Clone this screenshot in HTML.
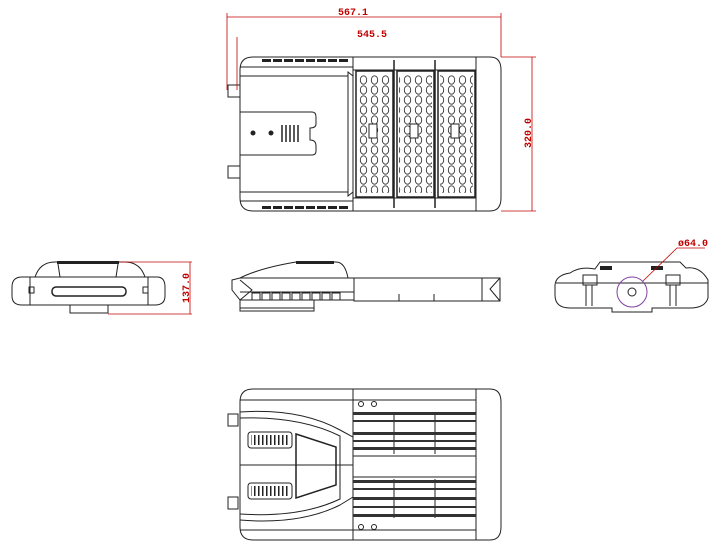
<!DOCTYPE html>
<html><head><style>
html,body{margin:0;padding:0;background:#fff;}
svg{display:block}
text{font-family:"Liberation Mono",monospace;font-weight:bold;fill:#c00000;font-size:10px}
</style></head><body>
<svg width="724" height="556" viewBox="0 0 724 556" xmlns="http://www.w3.org/2000/svg">
<defs>
<pattern id="led" x="358" y="75" width="11" height="10" patternUnits="userSpaceOnUse">
<ellipse cx="5.5" cy="5" rx="3.2" ry="4.2" fill="none" stroke="#333" stroke-width="0.9"/>
</pattern>
<pattern id="vb" x="250" y="0" width="4" height="10" patternUnits="userSpaceOnUse">
<rect x="0" y="0" width="1.5" height="10" fill="#222"/>
</pattern>
</defs>
<g fill="none" stroke="#222" stroke-width="1">
<!-- TOP VIEW -->
<path d="M253,57 H490 Q501,57 501,70 V198 Q501,211 490,211 H253 Q240,211 240,198 V70 Q240,57 253,57 Z"/>
<line x1="353" y1="57" x2="353" y2="211"/>
<line x1="476" y1="57" x2="476" y2="211"/>
<line x1="240" y1="67" x2="353" y2="67"/>
<line x1="240" y1="201" x2="353" y2="201"/>
<line x1="240" y1="76" x2="348" y2="76"/>
<line x1="240" y1="192" x2="348" y2="192"/>
<path d="M348,72 L353,76 V192 L348,196 Z"/>
<path d="M240,112 H312 Q316,112 316,117 V124 Q316,128 310,128 V140 Q316,140 316,146 V151 Q316,155 312,155 H240"/>
<circle cx="253" cy="133" r="2" fill="#222"/>
<circle cx="271" cy="133" r="2" fill="#222"/>
<g stroke-width="1.5"><line x1="282" y1="125" x2="282" y2="142"/><line x1="286" y1="125" x2="286" y2="142"/><line x1="290" y1="125" x2="290" y2="142"/><line x1="294" y1="125" x2="294" y2="142"/><line x1="298" y1="125" x2="298" y2="142"/></g>
<rect x="228" y="85" width="12" height="12"/><rect x="228" y="166" width="12" height="12"/>
<line x1="353" y1="70" x2="476" y2="70"/><line x1="353" y1="198" x2="476" y2="198"/>
<rect x="356" y="71" width="37" height="126" stroke-width="1.5"/>
<rect x="397" y="71" width="37" height="126" stroke-width="1.5"/>
<rect x="438" y="71" width="37" height="126" stroke-width="1.5"/>
<line x1="394" y1="60" x2="394" y2="208" stroke-width="1.5"/>
<line x1="435" y1="60" x2="435" y2="208" stroke-width="1.5"/>
</g>
<g stroke="#222" stroke-width="3" stroke-dasharray="9,2"><line x1="262" y1="60.5" x2="350" y2="60.5"/><line x1="262" y1="207.5" x2="350" y2="207.5"/></g>
<rect x="358" y="75" width="33" height="118" fill="url(#led)"/>
<rect x="399" y="75" width="33" height="118" fill="url(#led)"/>
<rect x="440" y="75" width="33" height="118" fill="url(#led)"/>
<g fill="#fff" stroke="#222"><rect x="369" y="124" width="8" height="14"/><rect x="410" y="124" width="8" height="14"/><rect x="451" y="124" width="8" height="14"/></g>
<g stroke="#c00000" stroke-width="0.8" fill="none">
<line x1="227" y1="17" x2="501" y2="17"/><line x1="227" y1="13" x2="227" y2="90"/><line x1="501" y1="13" x2="501" y2="57"/>
<line x1="237" y1="37" x2="237" y2="90"/>
<line x1="501" y1="57" x2="536" y2="57"/><line x1="501" y1="211" x2="536" y2="211"/><line x1="532" y1="57" x2="532" y2="211"/>
</g>
<text x="338" y="15">567.1</text>
<text x="357" y="37" font-size="11">545.5</text>
<text transform="translate(531,148) rotate(-90)" font-size="11">320.0</text>

<!-- END VIEW LEFT -->
<g fill="none" stroke="#222">
<path d="M22,277 H157 Q165,277 165,287 V296 Q165,305 155,305 H22 Q12,305 12,296 V287 Q12,277 22,277 Z"/>
<path d="M35,277 Q40,262 55,262 H125 Q140,262 145,277"/>
<line x1="58" y1="264" x2="60" y2="277"/><line x1="118" y1="264" x2="116" y2="277"/>
<line x1="30" y1="277" x2="30" y2="305"/><line x1="148" y1="277" x2="148" y2="305"/>
<rect x="52" y="287" width="74" height="9" rx="4" stroke-width="1.5"/>
<rect x="29" y="287" width="5" height="6"/><rect x="143" y="287" width="5" height="6"/>
<rect x="70" y="305" width="38" height="8"/>
</g>
<rect x="57" y="261" width="62" height="3" fill="#222"/>
<g stroke="#c00000" stroke-width="0.8"><line x1="120" y1="262" x2="192" y2="262"/><line x1="108" y1="314" x2="192" y2="314"/><line x1="190" y1="262" x2="190" y2="314"/></g>
<text transform="translate(189,303) rotate(-90)" font-size="11">137.0</text>

<!-- SIDE VIEW -->
<g fill="none" stroke="#222">
<path d="M240,278 Q260,268 296,262 H336 Q345,262 348,278"/>
<path d="M232,280 L240,278 H354 V300 H240 L232,290 Z"/>
<path d="M240,280 L252,290 L240,300"/>
<rect x="354" y="278" width="146" height="23"/>
<line x1="399" y1="294" x2="399" y2="301"/><line x1="434" y1="294" x2="434" y2="301"/>
<path d="M500,278 L490,289 L500,301"/><line x1="482" y1="278" x2="482" y2="301"/>
<rect x="240" y="300" width="74" height="8"/><rect x="240" y="308" width="74" height="3"/>
<line x1="240" y1="292" x2="354" y2="292"/>
<g><rect x="252" y="293" width="8" height="7"/><rect x="262" y="293" width="8" height="7"/><rect x="272" y="293" width="8" height="7"/><rect x="282" y="293" width="8" height="7"/><rect x="292" y="293" width="8" height="7"/><rect x="302" y="293" width="8" height="7"/><rect x="312" y="293" width="8" height="7"/><rect x="322" y="293" width="8" height="7"/><rect x="332" y="293" width="8" height="7"/></g>
</g>
<rect x="296" y="261" width="38" height="3" fill="#222"/>

<!-- END VIEW RIGHT -->
<g fill="none" stroke="#222">
<path d="M570,273 Q580,266 595,269 L600,262 H680 L686,268 Q700,266 708,280 V298 Q705,308 690,308 H652 V312 H612 V308 H570 Q555,308 555,295 V285 Q556,275 570,273 Z"/>
<line x1="556" y1="283" x2="708" y2="283"/>
<rect x="583" y="275" width="14" height="10"/><rect x="666" y="275" width="14" height="10"/>
<line x1="586" y1="285" x2="586" y2="306"/><line x1="592" y1="285" x2="592" y2="306"/>
<line x1="670" y1="285" x2="670" y2="306"/><line x1="676" y1="285" x2="676" y2="306"/>
<circle cx="632" cy="292" r="4"/>
</g>
<rect x="600" y="266" width="12" height="4" fill="#222"/><rect x="651" y="266" width="12" height="4" fill="#222"/>
<circle cx="632" cy="292" r="15" fill="none" stroke="#8040a0"/>
<g stroke="#c00000" stroke-width="0.8" fill="none"><polyline points="643,281 677,248 705,248"/></g>
<text x="678" y="246" font-size="9">ø64.0</text>

<!-- BOTTOM VIEW -->
<g fill="none" stroke="#222">
<path d="M253,389 H490 Q501,389 501,402 V527 Q501,540 490,540 H253 Q240,540 240,527 V402 Q240,389 253,389 Z"/>
<line x1="353" y1="389" x2="353" y2="540"/>
<line x1="476" y1="389" x2="476" y2="540"/>
<line x1="240" y1="400" x2="476" y2="400"/><line x1="240" y1="530" x2="476" y2="530"/>
<path d="M240,412 Q300,408 340,430 L353,437 V497 L340,505 Q300,525 240,520"/>
<path d="M240,418 Q300,416 340,436 V499 Q300,518 240,514"/>
<line x1="240" y1="465" x2="353" y2="465"/>
<rect x="248" y="432" width="44" height="16" rx="3"/><rect x="248" y="483" width="44" height="16" rx="3"/>
<path d="M296,434 L336,447 V485 L296,498 Z" stroke-width="1.5"/>
<rect x="228" y="414" width="10" height="12"/><rect x="228" y="497" width="10" height="12"/>
<circle cx="361" cy="404" r="2.5"/><circle cx="374" cy="404" r="2.5"/><circle cx="361" cy="527" r="2.5"/><circle cx="374" cy="527" r="2.5"/>
<line x1="353" y1="456" x2="476" y2="456"/><line x1="353" y1="477" x2="476" y2="477"/>
<line x1="394" y1="414" x2="394" y2="454"/><line x1="435" y1="414" x2="435" y2="454"/>
<line x1="394" y1="479" x2="394" y2="518"/><line x1="435" y1="479" x2="435" y2="518"/>
</g>
<rect x="251" y="435" width="38" height="10" fill="url(#vb)"/>
<rect x="251" y="486" width="38" height="10" fill="url(#vb)"/>
<g fill="#333">
<rect x="353" y="412" width="123" height="3"/><rect x="353" y="420" width="123" height="2"/><rect x="353" y="432" width="123" height="3"/><rect x="353" y="440" width="123" height="2"/><rect x="353" y="447" width="123" height="3"/>
<rect x="353" y="480" width="123" height="3"/><rect x="353" y="488" width="123" height="2"/><rect x="353" y="497" width="123" height="3"/><rect x="353" y="506" width="123" height="2"/><rect x="353" y="514" width="123" height="3"/>
</g>
</svg>
</body></html>
